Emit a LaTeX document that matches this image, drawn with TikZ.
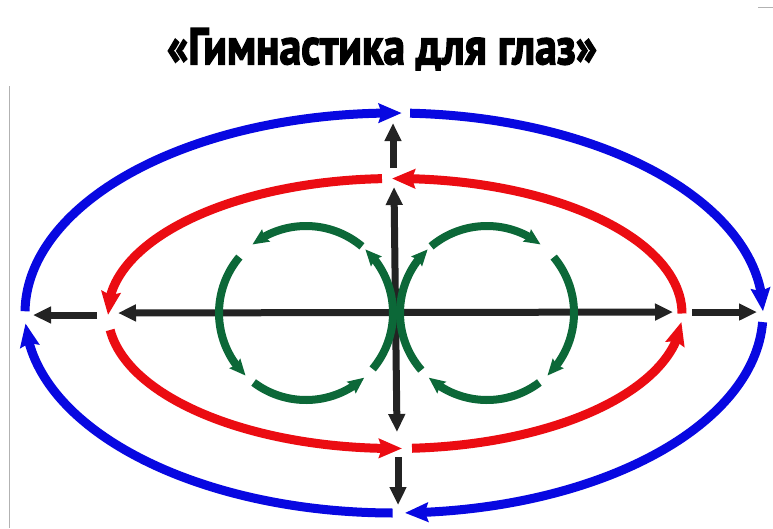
\documentclass[tikz,border=0pt]{standalone}
\usepackage{fontspec}
\usepackage{graphicx}
\newfontfamily\titlefont{PT Sans}[BoldFeatures={FakeBold=3}]
\usetikzlibrary{arrows.meta,bending}
\definecolor{eblue}{RGB}{8,8,225}
\definecolor{ered}{RGB}{235,12,18}
\definecolor{egreen}{RGB}{12,104,56}
\definecolor{eblack}{RGB}{35,35,35}
\begin{document}
\begin{tikzpicture}[x=1pt,y=-1pt,
  blkone/.style={draw=eblack, line width=7pt, -{Triangle[length=18pt,width=16pt]}},
  blktwo/.style={draw=eblack, line width=7pt, {Triangle[length=18pt,width=16pt]}-{Triangle[length=18pt,width=16pt]}},
  bluearc/.style={draw=eblue, line width=9pt, -{Stealth[length=23pt,width=19pt,inset=3pt]}},
  redarc/.style={draw=ered, line width=9pt, -{Stealth[length=23pt,width=19pt,inset=3pt]}},
  greenarc/.style={draw=egreen, line width=8pt, -{Stealth[length=16pt,width=14pt,inset=2pt]}},
  frameline/.style={draw=black!30, line width=1pt}
]
\useasboundingbox (0,0) rectangle (773,528);
\fill[white] (0,0) rectangle (773,528);

% faint frame lines
\coordinate (fa) at (9,86);
\coordinate (fb) at (9,528);
\coordinate (fc) at (758,7);
\coordinate (fd) at (773,7);
\draw[frameline] (fa) -- (fb);
\draw[frameline] (fc) -- (fd);

% title
\node[anchor=north, inner sep=0pt] (title) at (382,28)
  {\resizebox*{430pt}{42pt}{\titlefont\bfseries «Гимнастика для глаз»}};

% black axes
\coordinate (hl) at (118,313);
\coordinate (hr) at (673,312);
\coordinate (sla) at (97,315);
\coordinate (slb) at (33,315);
\coordinate (sra) at (692,312);
\coordinate (srb) at (757,312);
\coordinate (vt) at (394,187);
\coordinate (vb) at (397,432);
\coordinate (sua) at (393,168);
\coordinate (sub) at (393,123);
\coordinate (sda) at (398,457);
\coordinate (sdb) at (398,505);
\draw[blktwo] (hl) -- (hr);
\draw[blktwo] (vt) -- (vb);
\draw[blkone] (sla) -- (slb);
\draw[blkone] (sra) -- (srb);
\draw[blkone] (sua) -- (sub);
\draw[blkone] (sda) -- (sdb);

% blue ellipse (clockwise)
\coordinate (B) at (394,313);
\draw[bluearc] (B) ++(180.5:369 and 200) arc[start angle=180.5, end angle=271.2, x radius=369, y radius=200];
\draw[bluearc] (B) ++(272.5:369 and 200) arc[start angle=272.5, end angle=359.5, x radius=369, y radius=200];
\draw[bluearc] (B) ++(2.6:369 and 200) arc[start angle=2.6, end angle=88.3, x radius=369, y radius=200];
\draw[bluearc] (B) ++(90.2:369 and 200) arc[start angle=90.2, end angle=177, x radius=369, y radius=200];

% red ellipse (counter-clockwise)
\coordinate (R) at (395,313.5);
\draw[redarc] (R) ++(360:287 and 135) arc[start angle=360, end angle=269.4, x radius=287, y radius=135];
\draw[redarc] (R) ++(267.4:287 and 135) arc[start angle=267.4, end angle=179.4, x radius=287, y radius=135];
\draw[redarc] (R) ++(173:287 and 135) arc[start angle=173, end angle=88.6, x radius=287, y radius=135];
\draw[redarc] (R) ++(86.6:287 and 135) arc[start angle=86.6, end angle=3.6, x radius=287, y radius=135];

% green left circle (counter-clockwise on screen)
\coordinate (GL) at (306,313);
\foreach \s/\e in {-50/-128, -140/-226, -233/-312, -320/-407}{
  \draw[greenarc] (GL) ++(\s:87) arc[start angle=\s, end angle=\e, radius=87];
}
% green right circle (clockwise on screen)
\coordinate (GR) at (487,313);
\foreach \s/\e in {-130/-52, -40/46, 53/132, 139/227}{
  \draw[greenarc] (GR) ++(\s:87) arc[start angle=\s, end angle=\e, radius=87];
}
\end{tikzpicture}
\end{document}
